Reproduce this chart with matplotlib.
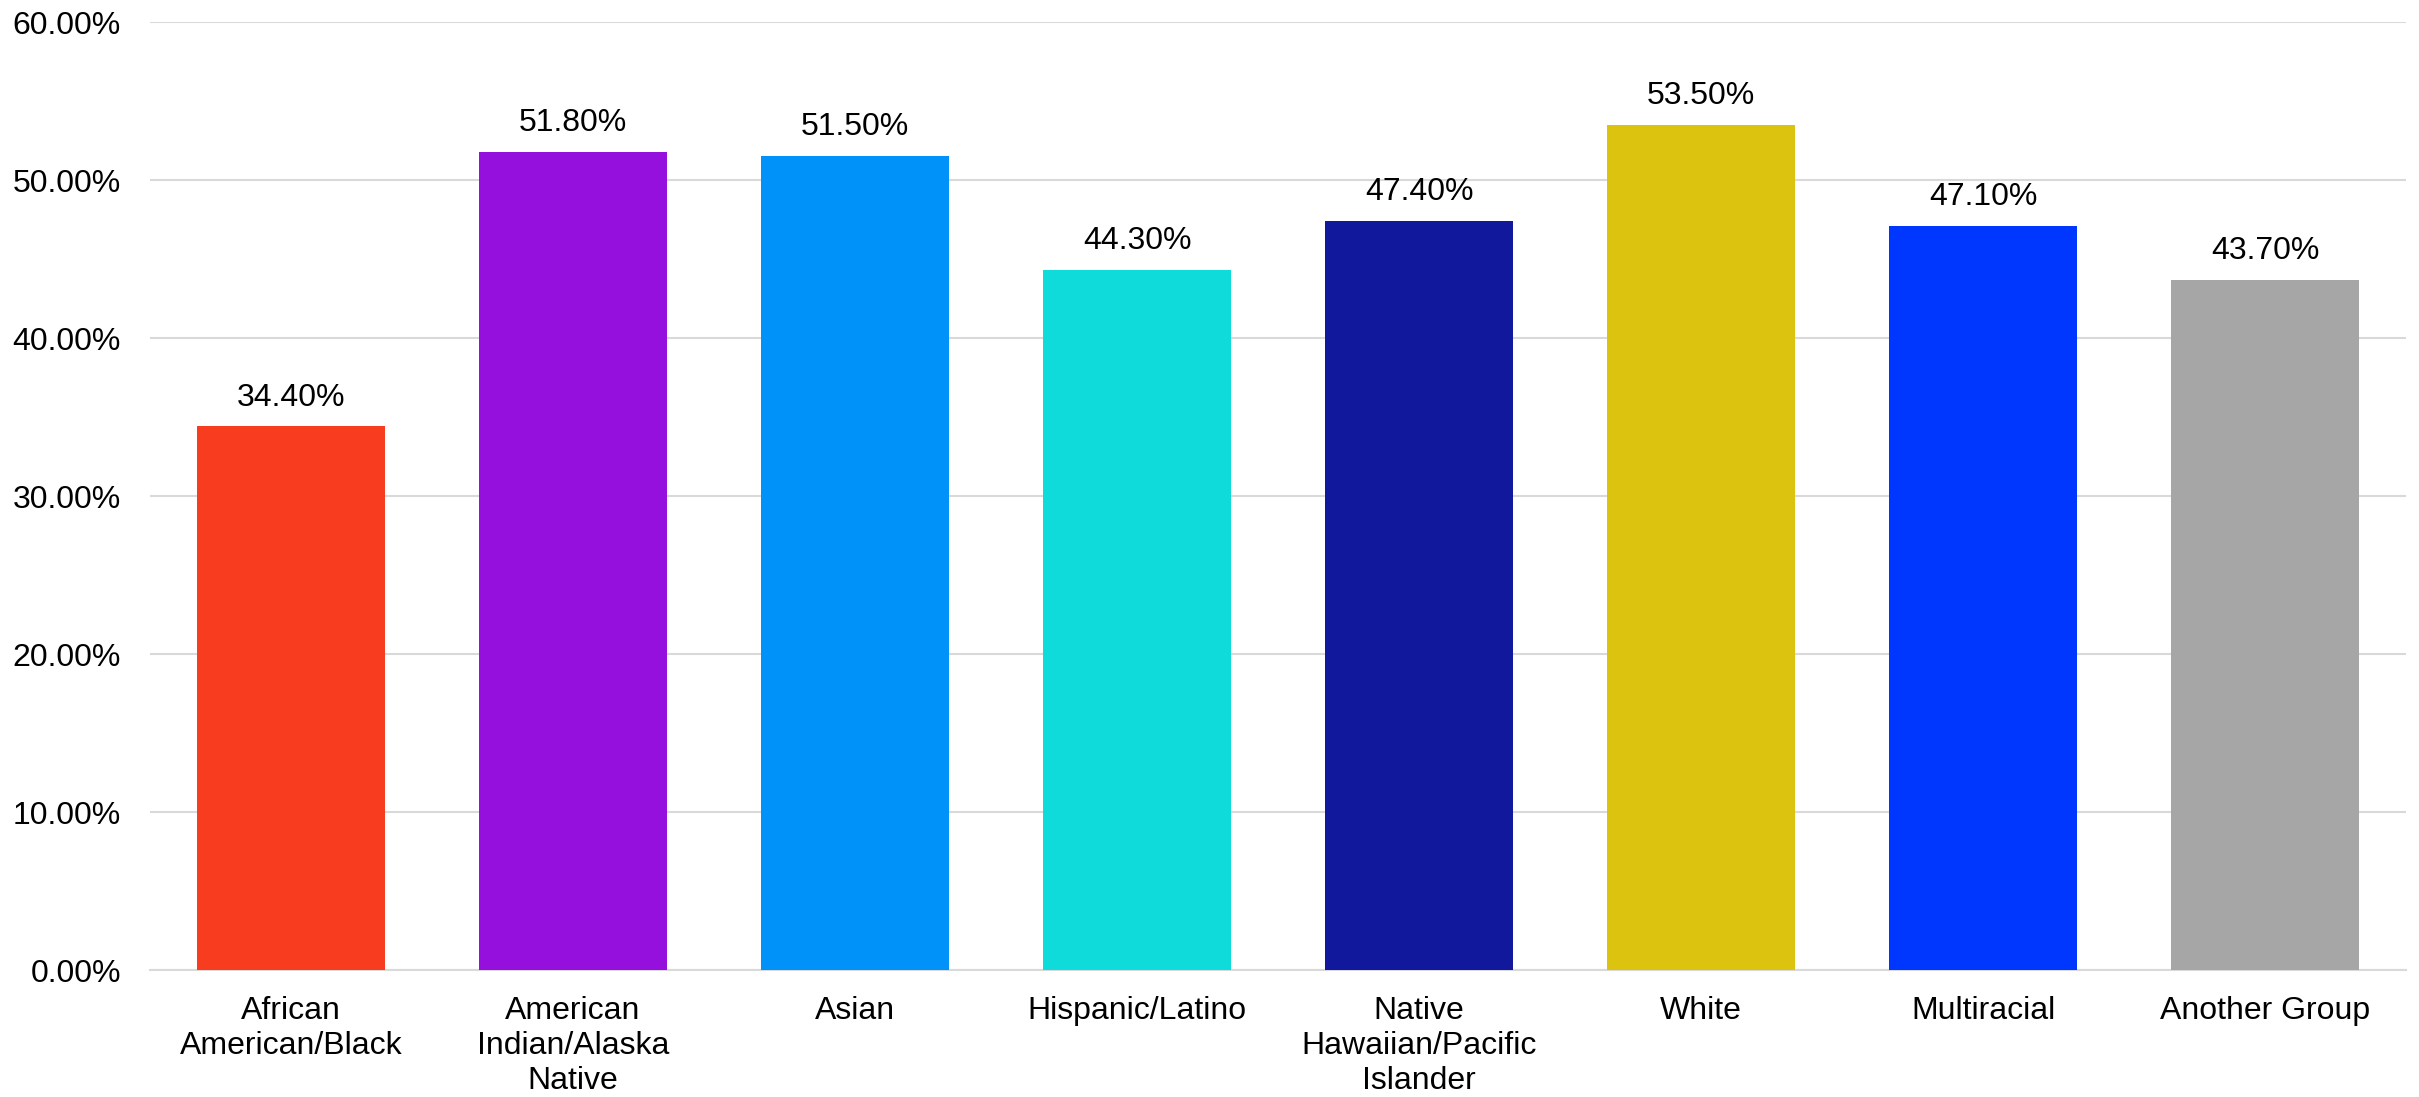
import matplotlib.pyplot as plt
from matplotlib.ticker import FuncFormatter

categories = ['African\nAmerican/Black', 'American\nIndian/Alaska\nNative', 'Asian',
              'Hispanic/Latino', 'Native\nHawaiian/Pacific\nIslander', 'White',
              'Multiracial', 'Another Group']
values = [34.4, 51.8, 51.5, 44.3, 47.4, 53.5, 47.1, 43.7]
colors = ['#F73C20', '#9510DC', '#0091F9', '#0FDBDB', '#12189C', '#DBC310', '#0037FF', '#A6A6A6']

plt.rcParams['font.family'] = ['Liberation Sans', 'DejaVu Sans']

fig = plt.figure(figsize=(24.19, 10.97), dpi=100)
ax = fig.add_axes([150 / 2419, 1 - 970 / 1097, (2406 - 150) / 2419, (970 - 22) / 1097])

x = range(len(categories))
bars = ax.bar(x, values, width=0.667, color=colors, zorder=3)
for b, v in zip(bars, values):
    ax.annotate('%.2f%%' % v, (b.get_x() + b.get_width() / 2, v), xytext=(0, 10),
                textcoords='offset points', ha='center', va='bottom', fontsize=23)

ax.set_xlim(-0.5, len(categories) - 0.5)
ax.set_ylim(0, 60)
ax.set_yticks(range(0, 61, 10))
ax.yaxis.set_major_formatter(FuncFormatter(lambda v, p: '%.2f%%' % v))
ax.set_xticks(list(x))
ax.set_xticklabels(categories, fontsize=23, va='top')
ax.tick_params(axis='y', labelsize=23, length=0, pad=21)
ax.tick_params(axis='x', length=0, pad=19)
ax.grid(axis='y', color='#D9D9D9', linewidth=1.5, zorder=0)
for s in ['top', 'right', 'left']:
    ax.spines[s].set_visible(False)
ax.spines['bottom'].set_color('#D9D9D9')
ax.spines['bottom'].set_linewidth(1.5)

fig.savefig('out.png', dpi=100)
